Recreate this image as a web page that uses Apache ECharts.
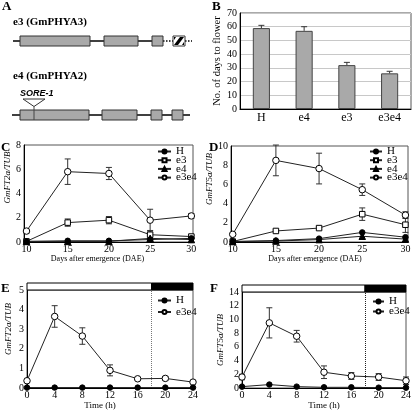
<!DOCTYPE html>
<html><head><meta charset="utf-8">
<script src="https://cdn.jsdelivr.net/npm/echarts@6/dist/echarts.min.js"></script>
<style>html,body{margin:0;padding:0;background:#fff}#c{width:414px;height:414px}</style>
</head><body><div id="c"></div>
<script>
// ---- Panel B ----
const bCategories = ['H', 'e4', 'e3', 'e3e4'];
const bDays = [59, 57, 32, 26];
const bDaysErr = [2, 3, 2, 1.5];

// ---- Panels C & D (days after emergence) ----
const dae = [10, 15, 20, 25, 30];
const cH = [0.05, 0.1, 0.1, 0.2, 0.3];
const cE3 = [0.05, 1.6, 1.8, 0.6, 0.45];
const cE3Err = [0, 0.3, 0.3, 0.35, 0.1];
const cE4 = [0.05, 0.05, 0.05, 0.3, 0.2];
const cE3e4 = [0.9, 5.8, 5.65, 1.8, 2.15];
const cE3e4Err = [0.15, 1.05, 0.5, 0.9, 0.2];

const dH = [0.05, 0.15, 0.35, 1.0, 0.5];
const dE3 = [0.05, 1.15, 1.45, 2.9, 1.8];
const dE3Err = [0, 0.1, 0.15, 0.65, 0.8];
const dE4 = [0.05, 0.1, 0.25, 0.6, 0.3];
const dE3e4 = [0.8, 8.5, 7.65, 5.45, 2.8];
const dE3e4Err = [0.1, 1.6, 1.6, 0.6, 0.35];

// ---- Panels E & F (time course) ----
const hours = [0, 4, 8, 12, 16, 20, 24];
const lightsOff = 18;
const eH = [0.02, 0.02, 0.02, 0.02, 0.02, 0.02, 0.02];
const eE3e4 = [0.37, 3.65, 2.65, 0.9, 0.47, 0.49, 0.3];
const eE3e4Err = [0.05, 0.55, 0.42, 0.28, 0.05, 0.1, 0.05];
const fH = [0.2, 0.5, 0.2, 0.1, 0.1, 0.05, 0.05];
const fE3e4 = [1.6, 9.5, 7.55, 2.3, 1.75, 1.6, 1.06];
const fE3e4Err = [0.4, 2.2, 0.85, 0.92, 0.5, 0.5, 0.55];

const SERIF = '"Liberation Serif","DejaVu Serif",serif';
const chart = echarts.init(document.getElementById('c'), null, {renderer: 'canvas'});

const pairs = (xs, ys) => xs.map((x, i) => [x, ys[i]]);
const triples = (xs, ys, es) => xs.map((x, i) => [x, ys[i], es[i]]);

function errSeries(idx, data, upOnly) {
  return {
    type: 'custom', xAxisIndex: idx, yAxisIndex: idx, z: 3, silent: true,
    data: data,
    renderItem: function (params, api) {
      const x = api.value(0), y = api.value(1), e = api.value(2);
      if (!e) return null;
      const top = api.coord([x, y + e]);
      const bot = api.coord([x, upOnly ? y : Math.max(0, y - e)]);
      const w = 3;
      const st = {stroke: '#333', lineWidth: 1};
      const ch = [
        {type: 'line', shape: {x1: top[0], y1: top[1], x2: bot[0], y2: bot[1]}, style: st},
        {type: 'line', shape: {x1: top[0] - w, y1: top[1], x2: top[0] + w, y2: top[1]}, style: st}
      ];
      if (!upOnly) ch.push({type: 'line', shape: {x1: bot[0] - w, y1: bot[1], x2: bot[0] + w, y2: bot[1]}, style: st});
      return {type: 'group', children: ch};
    }
  };
}

const sym = {
  H: {symbol: 'circle', symbolSize: 5.5, itemStyle: {color: '#000', borderColor: '#000', borderWidth: 1}},
  e3: {symbol: 'rect', symbolSize: 5.5, itemStyle: {color: '#fff', borderColor: '#000', borderWidth: 1}},
  e4: {symbol: 'triangle', symbolSize: 6.5, itemStyle: {color: '#000', borderColor: '#000', borderWidth: 1}},
  e3e4: {symbol: 'circle', symbolSize: 6.5, itemStyle: {color: '#fff', borderColor: '#000', borderWidth: 1}}
};
function lineSeries(idx, name, data, z, extra) {
  return Object.assign({
    type: 'line', name: name, xAxisIndex: idx, yAxisIndex: idx, data: data,
    showSymbol: true, z: z, lineStyle: {color: '#222', width: 1}, animation: false
  }, sym[name], extra || {});
}

const axisLabel = {fontFamily: SERIF, fontSize: 10, color: '#000'};
const axisLine = {show: true, lineStyle: {color: '#000', width: 1}};
function valAxisY(idx, max, interval, name, gap, fs, shiftUp) {
  return {
    type: 'value', gridIndex: idx, min: 0, max: max, interval: interval,
    axisLine: axisLine, axisTick: {show: false}, splitLine: {show: false},
    axisLabel: Object.assign({margin: 3}, axisLabel),
    name: name, nameLocation: 'middle', nameGap: gap,
    nameTextStyle: {fontFamily: SERIF, fontSize: fs || 9, fontStyle: 'italic', color: '#000',
      padding: [0, 0, 0, 2 * (shiftUp || 0)]}
  };
}
function xTitle(fs, pad) {
  return {fontFamily: SERIF, fontSize: fs, color: '#000', padding: [0, pad, 0, 0]};
}

const grids = [
  {left: 240, top: 13, width: 171, height: 96},   // B
  {left: 24, top: 145, width: 169, height: 97},   // C
  {left: 231, top: 146, width: 177, height: 96},  // D
  {left: 27, top: 290, width: 166, height: 98},   // E
  {left: 242, top: 292, width: 165, height: 96}   // F
].map(g => Object.assign({show: true, borderColor: '#555', borderWidth: 1, backgroundColor: 'transparent'}, g));

const xAxes = [
  {type: 'category', gridIndex: 0, data: bCategories, axisLine: axisLine, axisTick: {show: false},
   axisLabel: {fontFamily: SERIF, fontSize: 12, color: '#000', margin: 3}},
  {type: 'value', gridIndex: 1, min: 9.7, max: 30.2, axisLine: axisLine, axisTick: {show: false}, splitLine: {show: false},
   axisLabel: Object.assign({margin: 2, customValues: dae}, axisLabel),
   name: 'Days after emergence (DAE)', nameLocation: 'middle', nameGap: 9, nameTextStyle: xTitle(8, 22)},
  {type: 'value', gridIndex: 2, min: 9.8, max: 30.3, axisLine: axisLine, axisTick: {show: false}, splitLine: {show: false},
   axisLabel: Object.assign({margin: 2, customValues: dae}, axisLabel),
   name: 'Days after emergence (DAE)', nameLocation: 'middle', nameGap: 9, nameTextStyle: xTitle(8, 9)},
  {type: 'value', gridIndex: 3, min: 0, max: 24, interval: 4, axisLine: axisLine, axisTick: {show: false}, splitLine: {show: false},
   axisLabel: Object.assign({margin: 2}, axisLabel),
   name: 'Time (h)', nameLocation: 'middle', nameGap: 13, nameTextStyle: xTitle(9, 20)},
  {type: 'value', gridIndex: 4, min: 0, max: 24, interval: 4, axisLine: axisLine, axisTick: {show: false}, splitLine: {show: false},
   axisLabel: Object.assign({margin: 2}, axisLabel),
   name: 'Time (h)', nameLocation: 'middle', nameGap: 13, nameTextStyle: xTitle(9, 0)}
];

const yB = valAxisY(0, 70, 10, 'No. of days to flower', 16, 10.5, 0);
yB.splitLine = {show: true, lineStyle: {color: '#c8c8c8', width: 1}};
yB.nameTextStyle.fontStyle = 'normal';
const yAxes = [
  yB,
  valAxisY(1, 8, 2, 'GmFT2a/TUB', 11, 9, 16),
  valAxisY(2, 10, 2, 'GmFT5a/TUB', 8, 9, 15),
  valAxisY(3, 5, 1, 'GmFT2a/TUB', 14, 9, 10),
  valAxisY(4, 14, 2, 'GmFT5a/TUB', 17, 9, 0)
];

const legendBase = {orient: 'vertical', itemWidth: 13, itemHeight: 5, itemGap: -2.3, padding: 0,
  textStyle: {fontFamily: SERIF, fontSize: 11, color: '#000'}, selectedMode: false};
const legends = [
  Object.assign({}, legendBase, {left: 157, top: 146, data: ['H', 'e3', 'e4', 'e3e4']}),
  Object.assign({}, legendBase, {left: 369, top: 146, itemWidth: 12, data: ['H', 'e3', 'e4', 'e3e4']}),
  Object.assign({}, legendBase, {left: 157, top: 295, itemGap: 0.5, data: ['H', 'e3e4']}),
  Object.assign({}, legendBase, {left: 372, top: 296, itemWidth: 11, itemGap: -1, data: ['H', 'e3e4']})
];

const offMark = {symbol: 'none', silent: true, label: {show: false},
  lineStyle: {type: 'dotted', color: '#777', width: 1}, data: [{xAxis: lightsOff}]};

const series = [
  {type: 'bar', xAxisIndex: 0, yAxisIndex: 0, data: bDays, barWidth: '40%', z: 2,
   itemStyle: {color: '#a9a9a9', borderColor: '#444', borderWidth: 1}},
  errSeries(0, bDays.map((v, i) => [i, v, bDaysErr[i]]), true),

  errSeries(1, triples(dae, cE3, cE3Err)),
  errSeries(1, triples(dae, cE3e4, cE3e4Err)),
  lineSeries(1, 'e3e4', pairs(dae, cE3e4), 4),
  lineSeries(1, 'e3', pairs(dae, cE3), 5),
  lineSeries(1, 'e4', pairs(dae, cE4), 6),
  lineSeries(1, 'H', pairs(dae, cH), 7),

  errSeries(2, triples(dae, dE3, dE3Err)),
  errSeries(2, triples(dae, dE3e4, dE3e4Err)),
  lineSeries(2, 'e3e4', pairs(dae, dE3e4), 4),
  lineSeries(2, 'e3', pairs(dae, dE3), 5),
  lineSeries(2, 'e4', pairs(dae, dE4), 6),
  lineSeries(2, 'H', pairs(dae, dH), 7),

  errSeries(3, triples(hours, eE3e4, eE3e4Err)),
  lineSeries(3, 'e3e4', pairs(hours, eE3e4), 4, {markLine: offMark}),
  lineSeries(3, 'H', pairs(hours, eH), 5),

  errSeries(4, triples(hours, fE3e4, fE3e4Err)),
  lineSeries(4, 'e3e4', pairs(hours, fE3e4), 4, {markLine: Object.assign({}, offMark, {lineStyle: {type: 'dotted', color: '#222', width: 1}})}),
  lineSeries(4, 'H', pairs(hours, fH), 5)
];

chart.setOption({
  animation: false,
  grid: grids, xAxis: xAxes, yAxis: yAxes, legend: legends, series: series
});

// ---- Graphics: panel letters, panel A schematic, light/dark bars ----
const g = [];
function txt(x, y, s, font, extra) {
  g.push({type: 'text', x: x, y: y, style: Object.assign({text: s, font: font, fill: '#000', textVerticalAlign: 'middle'}, extra || {})});
}
const letterFont = 'bold 13px ' + SERIF;
txt(2, 7, 'A', letterFont); txt(212, 7, 'B', letterFont);
txt(1, 148, 'C', letterFont); txt(209, 148, 'D', letterFont);
txt(1, 289, 'E', letterFont); txt(210, 289, 'F', letterFont);

// Panel A gene structures
const geneFont = 'bold 11px ' + SERIF;
txt(13, 22, 'e3 (GmPHYA3)', geneFont);
txt(13, 76, 'e4 (GmPHYA2)', geneFont);
const exFill = '#a9a9a9', exStroke = '#333';
function hline(x1, x2, y, dotted) {
  g.push({type: 'line', shape: {x1: x1, y1: y, x2: x2, y2: y},
    style: {stroke: '#000', lineWidth: 1.5, lineDash: dotted ? [1.5, 1.5] : null}});
}
function exon(x1, x2, y) {
  g.push({type: 'rect', shape: {x: x1, y: y - 5, width: x2 - x1, height: 10},
    style: {fill: exFill, stroke: exStroke, lineWidth: 1}, z: 2});
}
// e3
hline(13, 163, 41);
hline(163, 173, 41, true);
hline(185, 192, 41, true);
exon(20, 90, 41); exon(104, 138, 41); exon(152, 163, 41);
g.push({type: 'rect', shape: {x: 173, y: 36, width: 12, height: 10}, style: {fill: '#fff', stroke: '#333', lineWidth: 1}, z: 2});
g.push({type: 'polygon', shape: {points: [[174, 45], [178, 45], [184, 37], [180, 37]]}, style: {fill: '#000'}, z: 3});
g.push({type: 'polygon', shape: {points: [[174, 40], [174, 37], [176, 37]]}, style: {fill: '#000'}, z: 3});
g.push({type: 'polygon', shape: {points: [[182, 45], [184, 45], [184, 42]]}, style: {fill: '#000'}, z: 3});
// e4
hline(12, 190, 115);
exon(20, 89, 115); exon(102, 137, 115); exon(151, 162, 115); exon(172, 183, 115);
g.push({type: 'polyline', shape: {points: [[23, 99], [34, 106.5], [45, 99], [23, 99]]}, style: {stroke: '#333', fill: '#fff', lineWidth: 1}, z: 3});
g.push({type: 'line', shape: {x1: 34, y1: 106.5, x2: 34, y2: 120}, style: {stroke: '#444', lineWidth: 1}, z: 3});
txt(20, 94, 'SORE-1', 'italic bold 9px "Liberation Sans", Arial, sans-serif');

// Light/dark bars above E and F
[[3, 5], [4, 14]].forEach(([idx, ymax]) => {
  const a = chart.convertToPixel({xAxisIndex: idx, yAxisIndex: idx}, [0, ymax]);
  const m = chart.convertToPixel({xAxisIndex: idx, yAxisIndex: idx}, [lightsOff, ymax]);
  const b = chart.convertToPixel({xAxisIndex: idx, yAxisIndex: idx}, [24, ymax]);
  const h = 7;
  g.push({type: 'rect', shape: {x: a[0], y: a[1] - h, width: m[0] - a[0], height: h}, style: {fill: '#fff', stroke: '#000', lineWidth: 1}, z: 5});
  g.push({type: 'rect', shape: {x: m[0], y: a[1] - h, width: b[0] - m[0], height: h}, style: {fill: '#000', stroke: '#000', lineWidth: 1}, z: 5});
});

chart.setOption({graphic: g});
</script>
</body></html>
